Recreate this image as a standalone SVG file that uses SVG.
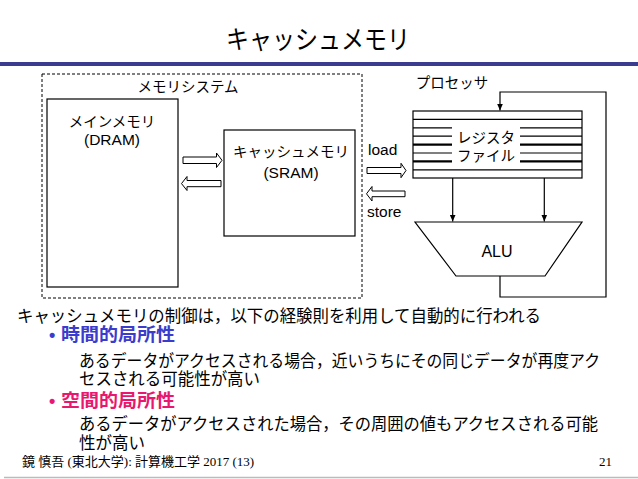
<svg xmlns="http://www.w3.org/2000/svg" width="638" height="479" viewBox="0 0 638 479">
<defs>
<style>
.jp{font-family:"Liberation Sans","Noto Sans CJK JP",sans-serif;fill:#000}
.lbl{font-size:14.5px}
.lat{font-size:15.5px}
.body{font-size:17px}
.box{fill:#fff;stroke:#000;stroke-width:1.2}
.ln{stroke:#000;stroke-width:1.2;fill:none}
.thick{stroke:#000;stroke-width:2.4}
.blk{fill:#fff;stroke:#000;stroke-width:1}
.foot{font-family:"Liberation Serif","Noto Sans CJK JP",serif;font-size:13px;fill:#000}
</style>
<marker id="ah" markerWidth="8" markerHeight="8" refX="7" refY="4" orient="auto" markerUnits="userSpaceOnUse">
<path d="M0,1 L7,4 L0,7 Z" fill="#000"/>
</marker>
</defs>
<rect width="638" height="479" fill="#fff"/>
<g id="title">
<text class="jp" x="318" y="49" font-size="26" text-anchor="middle" textLength="184" lengthAdjust="spacingAndGlyphs">キャッシュメモリ</text>
<rect x="0" y="62" width="638" height="4" fill="#3b3b8f"/>
</g>
<g id="memory-system">
<rect x="42" y="74" width="320" height="224" fill="none" stroke="#000" stroke-width="1" stroke-dasharray="3,2"/>
<text class="jp lbl" x="188" y="92" text-anchor="middle">メモリシステム</text>
</g>
<g id="main-memory">
<rect class="box" x="47" y="99" width="131" height="188"/>
<text class="jp lbl" x="112" y="127" text-anchor="middle">メインメモリ</text>
<text class="jp lat" x="112" y="145" text-anchor="middle">(DRAM)</text>
</g>
<g id="cache-memory">
<rect class="box" x="224" y="130" width="131" height="106"/>
<text class="jp lbl" x="291" y="157" text-anchor="middle">キャッシュメモリ</text>
<text class="jp lat" x="291" y="178" text-anchor="middle">(SRAM)</text>
</g>
<g id="processor-label">
<text class="jp lbl" x="452" y="88" text-anchor="middle">プロセッサ</text>
</g>
<g id="register-file">
<rect class="box" x="413" y="111" width="169" height="67"/>
<line class="ln" x1="413" y1="119.4" x2="582" y2="119.4"/>
<line class="ln" x1="413" y1="127.8" x2="452" y2="127.8"/>
<line class="ln" x1="520" y1="127.8" x2="582" y2="127.8"/>
<line class="ln" x1="413" y1="136.2" x2="452" y2="136.2"/>
<line class="ln" x1="520" y1="136.2" x2="582" y2="136.2"/>
<line class="thick" x1="413" y1="144.6" x2="452" y2="144.6"/>
<line class="thick" x1="520" y1="144.6" x2="582" y2="144.6"/>
<line class="ln" x1="413" y1="153" x2="452" y2="153"/>
<line class="ln" x1="520" y1="153" x2="582" y2="153"/>
<line class="thick" x1="413" y1="161.4" x2="452" y2="161.4"/>
<line class="thick" x1="520" y1="161.4" x2="582" y2="161.4"/>
<line class="ln" x1="413" y1="169.8" x2="582" y2="169.8"/>
<text class="jp lbl" x="486" y="143" text-anchor="middle">レジスタ</text>
<text class="jp lbl" x="486" y="161" text-anchor="middle">ファイル</text>
</g>
<g id="alu">
<polygon class="box" points="415,222 582,222 545,276 456,276"/>
<text class="jp" x="497" y="257" font-size="16" text-anchor="middle">ALU</text>
</g>
<g id="transfer-labels">
<text class="jp lat" x="368" y="155">load</text>
<text class="jp lat" x="367" y="217">store</text>
</g>
<g id="connectors">
<polygon class="blk" points="183,157 216.5,157 216.5,153 222,160.3 216.5,167.5 216.5,163.5 183,163.5"/>
<polygon class="blk" points="221,180.5 187,180.5 187,176.5 181.5,183.6 187,190.5 187,186.7 221,186.7"/>
<polygon class="blk" points="367,167.5 401,167.5 401,163.3 406,170.5 401,177.7 401,173.5 367,173.5"/>
<polygon class="blk" points="405,191 372,191 372,186.5 366.5,193.8 372,201 372,196.7 405,196.7"/>
<line class="ln" x1="452.7" y1="178" x2="452.7" y2="221.5" marker-end="url(#ah)"/>
<line class="ln" x1="544.3" y1="178" x2="544.3" y2="221.5" marker-end="url(#ah)"/>
<path class="ln" d="M500,276 V297 H606 V92 H500 V110.5" marker-end="url(#ah)"/>
</g>
<g id="notes">
<text class="jp body" x="17" y="322" textLength="524" lengthAdjust="spacingAndGlyphs">キャッシュメモリの制御は，以下の経験則を利用して自動的に行われる</text>
<text class="jp" x="49" y="341" font-size="18" font-weight="bold" style="fill:#3c3ccc">•</text>
<text class="jp" x="61" y="341" font-size="18.5" font-weight="bold" style="fill:#3c3ccc" textLength="114" lengthAdjust="spacingAndGlyphs">時間的局所性</text>
<text class="jp body" x="79" y="367" textLength="521" lengthAdjust="spacingAndGlyphs">あるデータがアクセスされる場合，近いうちにその同じデータが再度アク</text>
<text class="jp body" x="79" y="385" textLength="181" lengthAdjust="spacingAndGlyphs">セスされる可能性が高い</text>
<text class="jp" x="49" y="407" font-size="18" font-weight="bold" style="fill:#e8186e">•</text>
<text class="jp" x="61" y="407" font-size="18.5" font-weight="bold" style="fill:#e8186e" textLength="114" lengthAdjust="spacingAndGlyphs">空間的局所性</text>
<text class="jp body" x="79" y="430" textLength="519" lengthAdjust="spacingAndGlyphs">あるデータがアクセスされた場合，その周囲の値もアクセスされる可能</text>
<text class="jp body" x="79" y="449" textLength="66" lengthAdjust="spacingAndGlyphs">性が高い</text>
</g>
<g id="footer">
<text class="foot" x="22" y="466">鏡 慎吾 (東北大学): 計算機工学 2017 (13)</text>
<text class="foot" x="612" y="466" text-anchor="end">21</text>
<line x1="4" y1="477.5" x2="638" y2="477.5" stroke="#bbb" stroke-width="1.5"/>
</g>
</svg>
